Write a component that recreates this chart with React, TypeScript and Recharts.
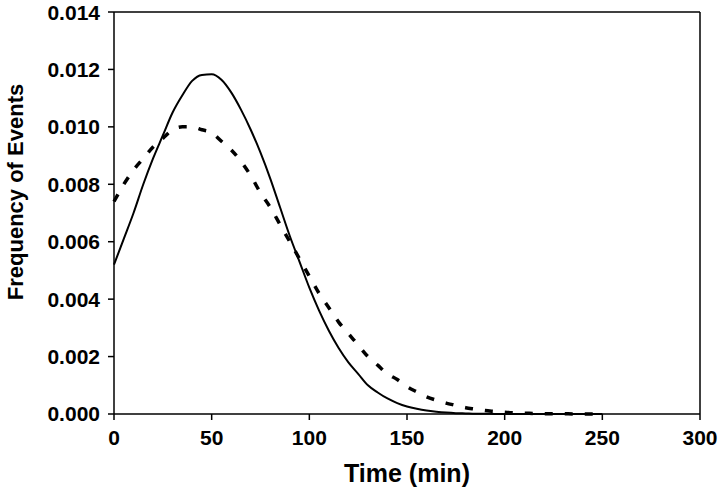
import { LineChart, Line, XAxis, YAxis, ReferenceLine, Label } from "recharts";

const times = [
  0, 5, 10, 15, 20, 25, 30, 35, 40, 45, 50, 55, 60, 65, 70, 75, 80, 85, 90, 95, 100,
  105, 110, 115, 120, 125, 130, 135, 140, 145, 150, 155, 160, 165, 170, 175, 180, 185, 190, 195, 200,
  205, 210, 215, 220, 225, 230, 235, 240, 245, 250,
];
const solidFreq = [
  0.0052, 0.0061, 0.007, 0.008, 0.0089, 0.0097, 0.0105, 0.0111, 0.0116, 0.01181, 0.01183, 0.01164, 0.0112, 0.0106, 0.0099, 0.0091, 0.0082, 0.0072, 0.0062, 0.0053, 0.0044,
  0.0036, 0.0029, 0.0023, 0.0018, 0.0014, 0.001, 0.00075, 0.00054, 0.00038, 0.00026, 0.00018, 0.00012, 0.00008, 0.00005, 0.00003, 0.00002, 0.00001, 0.00001, 0, 0,
  0, 0, 0, 0, 0, 0, 0, 0, 0, 0,
];
const dashedFreq = [
  0.0074, 0.008, 0.0085, 0.0089, 0.0093, 0.0096, 0.0099, 0.01, 0.01, 0.0099, 0.0098, 0.0095, 0.0092, 0.0088, 0.0083, 0.0077, 0.0072, 0.0066, 0.006, 0.0054, 0.0048,
  0.0042, 0.0037, 0.0032, 0.0028, 0.0024, 0.002, 0.0017, 0.0014, 0.0012, 0.00095, 0.00077, 0.0006, 0.00048, 0.00038, 0.0003, 0.00022, 0.00017, 0.00012, 0.00009, 0.00006,
  0.00004, 0.00003, 0.00002, 0.00001, 0.00001, 0.00001, 0, 0, 0, 0,
];
const xTicks = [0, 50, 100, 150, 200, 250, 300];
const yTicks = [0, 0.002, 0.004, 0.006, 0.008, 0.01, 0.012, 0.014];

const data = times.map((t, i) => ({ t, solid: solidFreq[i], dashed: dashedFreq[i] }));

const font = "'Liberation Sans', Arial, sans-serif";
const tickStyle = { fontFamily: font, fontSize: 21, fontWeight: 700, fill: "#000" };

const YTitle = () => (
  <text x={23} y={192} transform="rotate(-90, 23, 192)" textAnchor="middle" style={{ ...tickStyle, fontSize: 22 }}>
    Frequency of Events
  </text>
);

const XTitle = (props: any) => {
  const vb = props.viewBox;
  const cx = vb.x + vb.width / 2;
  return (
    <text x={cx} y={482} textAnchor="middle" style={{ ...tickStyle, fontSize: 25 }}>
      Time (min)
    </text>
  );
};

export default function App() {
  return (
    <div style={{ position: "absolute", left: 0, top: 0, width: 720, height: 490, background: "#fff" }}>
      <LineChart width={720} height={490} data={data} margin={{ top: 12, right: 20, left: 0, bottom: 0 }}>
        <XAxis
          dataKey="t"
          type="number"
          domain={[0, 300]}
          ticks={xTicks}
          height={76}
          tickSize={6}
          tickMargin={10}
          tick={tickStyle}
          stroke="#000"
          strokeWidth={1.5}
          tickLine={{ stroke: "#000", strokeWidth: 1.5 }}
        >
          <Label content={XTitle} />
        </XAxis>
        <YAxis
          type="number"
          domain={[0, 0.014]}
          ticks={yTicks}
          width={114}
          tickSize={6}
          tickMargin={8}
          tick={tickStyle}
          tickFormatter={(v: number) => v.toFixed(3)}
          stroke="#000"
          strokeWidth={1.5}
          tickLine={{ stroke: "#000", strokeWidth: 1.5 }}
        >
          <Label content={YTitle} />
        </YAxis>
        <ReferenceLine y={0.014} stroke="#000" strokeWidth={1.5} />
        <ReferenceLine x={300} stroke="#000" strokeWidth={1.5} />
        <Line
          type="monotone"
          dataKey="dashed"
          stroke="#000"
          strokeWidth={3.5}
          strokeDasharray="8 12"
          dot={false}
          isAnimationActive={false}
        />
        <Line
          type="monotone"
          dataKey="solid"
          stroke="#000"
          strokeWidth={2}
          dot={false}
          isAnimationActive={false}
        />
      </LineChart>
    </div>
  );
}
